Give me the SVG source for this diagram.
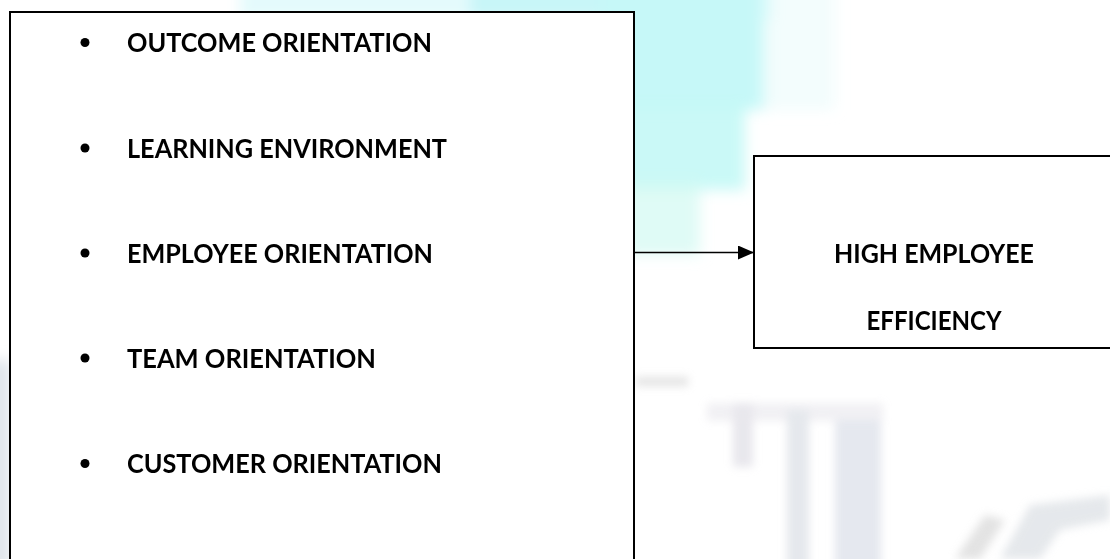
<svg xmlns="http://www.w3.org/2000/svg" width="1110" height="559" viewBox="0 0 1110 559">
<defs>
<style>
.box{fill:#fff;stroke:#000;stroke-width:2}
.t{font-family:Lato,"Open Sans","Liberation Sans",sans-serif;font-weight:bold;font-size:27.5px;fill:#000}
.c{text-anchor:middle}
.conn{stroke:#000;stroke-width:1.4;fill:none}
</style>
<filter id="blur" x="-20%" y="-20%" width="140%" height="140%"><feGaussianBlur stdDeviation="7"/></filter>
<filter id="blur2" x="-20%" y="-20%" width="140%" height="140%"><feGaussianBlur stdDeviation="4"/></filter>
<marker id="arr" viewBox="0 0 16 14" refX="16" refY="7" markerWidth="16" markerHeight="14" markerUnits="userSpaceOnUse" orient="auto">
<path d="M0,0 L16,7 L0,14 Z" fill="#000"/>
</marker>
</defs>
<rect width="1110" height="559" fill="#fff"/>
<g id="watermark">
<g filter="url(#blur)">
<rect x="240" y="-20" width="300" height="40" fill="#e4fafc"/>
<rect x="470" y="-20" width="300" height="40" fill="#c8f6f8"/>
<rect x="600" y="-20" width="165" height="130" fill="#c6f8f8"/>
<rect x="620" y="100" width="125" height="90" fill="#c4f8f6" opacity="0.9"/>
<rect x="625" y="180" width="75" height="75" fill="#d2faf2" opacity="0.7"/>
<rect x="760" y="-20" width="75" height="130" fill="#e8fcfc" opacity="0.5"/>
<rect x="-10" y="360" width="20" height="210" fill="#dde3ea"/>
</g>
<g filter="url(#blur2)" fill="#d6d4de" opacity="0.55">
<rect x="636" y="377" width="52" height="9" fill="#cccccc"/>
<rect x="707" y="403" width="176" height="18" opacity="0.6"/>
<rect x="733" y="403" width="20" height="64"/>
<rect x="787" y="410" width="22" height="160" fill="#d0d6de"/>
<rect x="835" y="420" width="46" height="150" fill="#d0d6e2"/>
<polygon points="955,559 985,515 1005,520 980,559" fill="#cccccc"/>
<polygon points="1000,559 1030,505 1110,495 1110,520 1060,530 1040,559" fill="#d0d6dc"/>
</g>
</g>
<g id="connectors">
<line class="conn" x1="634" y1="252.5" x2="754" y2="252.5" marker-end="url(#arr)"/>
</g>
<g id="factors">
<rect class="box" x="10" y="12" width="624" height="570"/>
<g fill="#000">
<circle cx="85" cy="42.5" r="4.5"/>
<circle cx="85" cy="148" r="4.5"/>
<circle cx="85" cy="253" r="4.5"/>
<circle cx="85" cy="358" r="4.5"/>
<circle cx="85" cy="463.5" r="4.5"/>
</g>
<text class="t" x="127" y="52" textLength="305" lengthAdjust="spacingAndGlyphs">OUTCOME ORIENTATION</text>
<text class="t" x="127" y="157.5" textLength="320" lengthAdjust="spacingAndGlyphs">LEARNING ENVIRONMENT</text>
<text class="t" x="127" y="263" textLength="306" lengthAdjust="spacingAndGlyphs">EMPLOYEE ORIENTATION</text>
<text class="t" x="127" y="368" textLength="249" lengthAdjust="spacingAndGlyphs">TEAM ORIENTATION</text>
<text class="t" x="127" y="473" textLength="315" lengthAdjust="spacingAndGlyphs">CUSTOMER ORIENTATION</text>
</g>
<g id="efficiency">
<rect class="box" x="754" y="156" width="400" height="192"/>
<text class="t c" x="934" y="263" textLength="200" lengthAdjust="spacingAndGlyphs">HIGH EMPLOYEE</text>
<text class="t c" x="934" y="330" textLength="135" lengthAdjust="spacingAndGlyphs">EFFICIENCY</text>
</g>
</svg>
